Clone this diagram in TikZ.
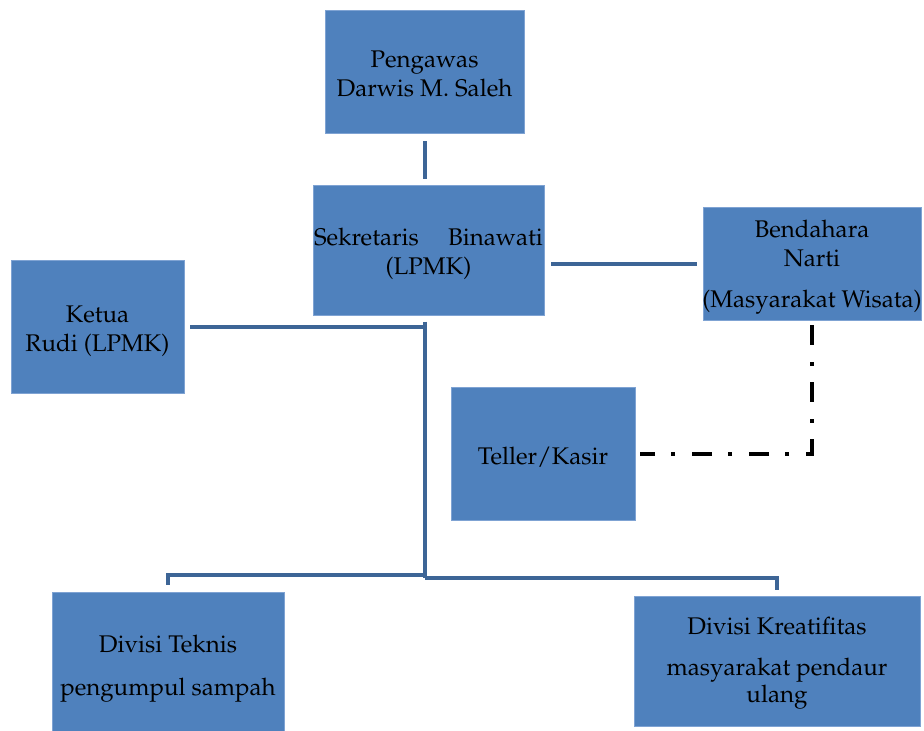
\documentclass[tikz,border=0pt]{standalone}
\usepackage[T1]{fontenc}
\usepackage{mathpazo}
\definecolor{boxfill}{HTML}{4F81BD}
\definecolor{boxline}{HTML}{7FA3D3}
\definecolor{connc}{HTML}{3D6596}
\begin{document}
\begin{tikzpicture}[x=1pt,y=-1pt,
  box/.style={draw=boxline, fill=boxfill, line width=0.6pt, inner sep=0pt},
  lbl/.style={inner sep=0pt, align=center, font=\fontsize{24.1}{29}\selectfont, text=black, yshift=-3.5pt},
  conn/.style={draw=connc, line width=4pt},
  dd/.style={draw=black, line width=4pt, dash pattern=on 20pt off 17pt on 4pt off 16pt}]
\useasboundingbox (0,0) rectangle (924,731);
\node[box, minimum width=199, minimum height=123] (peng) at (424.5,71.5) {};
\node[box, minimum width=231, minimum height=130] (sek) at (428.5,250) {};
\node[box, minimum width=218, minimum height=113] (bend) at (812,263.5) {};
\node[box, minimum width=173, minimum height=133] (ket) at (97.5,326.5) {};
\node[box, minimum width=184, minimum height=133] (tel) at (543,453.5) {};
\node[box, minimum width=232, minimum height=150] (tek) at (168,667) {};
\node[box, minimum width=286, minimum height=130] (kre) at (777,661) {};
\node[lbl, yshift=1pt] (pengt) at (peng.center) {Pengawas\\Darwis M. Saleh};
\node[lbl] (sekt) at (sek.center) {\makebox[229pt][s]{Sekretaris\hfill Binawati}\\(LPMK)};
\node[lbl] (bendt) at (bend.center) {Bendahara\\Narti\\[12pt](Masyarakat Wisata)};
\node[lbl, yshift=-1pt] (kett) at (ket.center) {Ketua\\Rudi (LPMK)};
\node[lbl] (telt) at (tel.center) {Teller/Kasir};
\node[lbl, yshift=2pt] (tekt) at (tek.center) {Divisi Teknis\\[14pt]pengumpul sampah};
\node[lbl, yshift=1pt] (kret) at (kre.center) {Divisi Kreatifitas\\[12pt]masyarakat pendaur\\[-2pt]ulang};
\coordinate (jt) at (peng.south |- ket.east);
\coordinate (jb) at (424.5,578);
\coordinate (jl) at (424.5,575);
\draw[conn, shorten <=8pt, shorten >=6pt] (peng.south) -- (peng.south |- sek.north);
\draw[conn, shorten <=7pt, shorten >=6pt] (sek.east |- bend.west) -- (bend.west);
\draw[conn, shorten <=6pt] (ket.east) -- (jt);
\draw[conn] ([yshift=5pt]jt) -- (jb);
\draw[conn, shorten >=7pt] (jl) -| (tek.north);
\draw[conn, shorten >=6pt] (jb) -| (kre.north);
\draw[dd, shorten <=5pt, shorten >=5pt] (bend.south) -- (bend.south |- tel.east) -- (tel.east);
\end{tikzpicture}
\end{document}
